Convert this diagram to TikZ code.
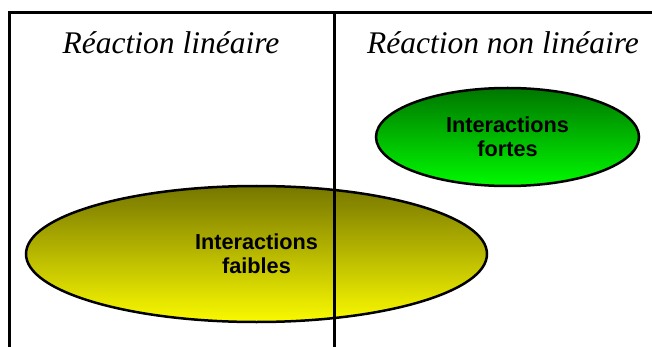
\documentclass[tikz,border=0pt]{standalone}
\usepackage{fontspec}
\setmainfont{Liberation Serif}
\setsansfont{Liberation Sans}
\usetikzlibrary{shapes.geometric}
\definecolor{gtop}{RGB}{0,118,0}
\definecolor{gbot}{RGB}{0,250,0}
\definecolor{ytop}{RGB}{118,118,0}
\definecolor{ybot}{RGB}{250,250,0}
\tikzset{
  blob/.style={ellipse, draw=black, line width=2.5pt, inner sep=0pt,
    align=center, font=\fontsize{21.7}{24}\selectfont\sffamily\bfseries},
  title/.style={font=\fontsize{31.5}{34}\selectfont\itshape, inner sep=0pt},
  rule/.style={line width=3pt, line cap=rect}
}
\begin{document}
\begin{tikzpicture}[x=1pt,y=-1pt]
\useasboundingbox (0,0) rectangle (652,347);
\node[blob, minimum width=461pt, minimum height=136pt, top color=ytop, bottom color=ybot]
  (faible) at (256.5,254) {Interactions\\faibles};
\node[blob, minimum width=263pt, minimum height=98pt, top color=gtop, bottom color=gbot]
  (forte) at (507.5,137) {Interactions\\fortes};
\coordinate (tl) at (9,13);
\coordinate (tm) at (334.5,13);
\coordinate (tr) at (655,13);
\coordinate (bl) at (9,350);
\coordinate (bm) at (334.5,350);
\draw[rule] (tr) -- (tl) -- (bl);
\draw[rule] (tm) -- (bm);
\node[title] (lin) at (171,43) {Réaction linéaire};
\node[title] (nonlin) at (503,43) {Réaction non linéaire};
\end{tikzpicture}
\end{document}
